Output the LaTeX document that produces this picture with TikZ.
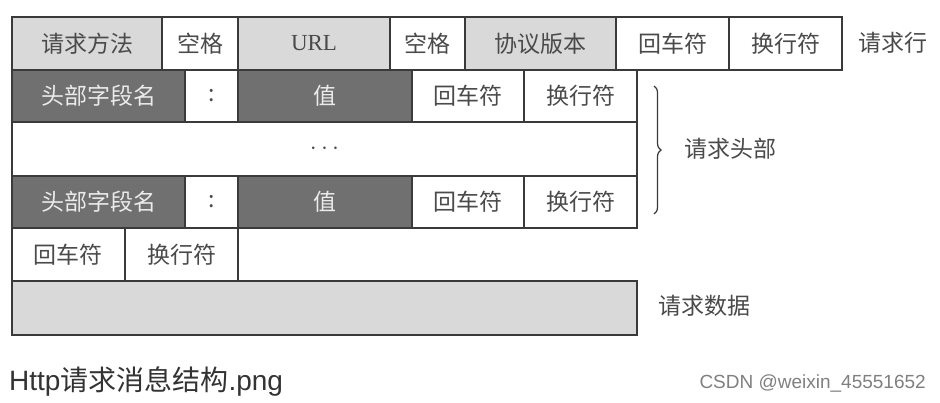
\documentclass[tikz,border=0pt]{standalone}
\usepackage{fontspec}
\newfontfamily\cjk{Noto Sans CJK SC}
\newfontfamily\serifl{Liberation Serif}
\newfontfamily\sansl{Liberation Sans}
\usetikzlibrary{decorations.pathreplacing}
\definecolor{lgray}{HTML}{D9D9D9}
\definecolor{dgray}{HTML}{707070}
\definecolor{edge}{HTML}{3A3A3A}
\definecolor{txt}{HTML}{4A4A4A}
\newcommand\mycell[7]{\node[#6, minimum width={(#4-#2)*1pt}, minimum height={(#5-#3)*1pt}] (#1) at ({(#2+#4)/2},{(#3+#5)/2}) {#7};}
\tikzset{
  base/.style={draw=edge, line width=1.3pt, inner sep=0pt, font=\cjk\fontsize{23}{26}\selectfont},
  wcell/.style={base, fill=white, text=txt},
  lcell/.style={base, fill=lgray, text=txt},
  dcell/.style={base, fill=dgray, text=white!92!black},
  lbl/.style={inner sep=0pt, text=txt, font=\cjk\fontsize{23}{26}\selectfont}
}
\begin{document}
\begin{tikzpicture}[x=1pt,y=-1pt]
\useasboundingbox[fill=white] (0,0) rectangle (940,402);
% row 1
\mycell{m}{12}{17}{162}{70}{lcell}{请求方法}
\mycell{s1}{162}{17}{238}{70}{wcell}{空格}
\mycell{url}{238}{17}{390}{70}{lcell}{\serifl URL}
\mycell{s2}{390}{17}{465}{70}{wcell}{空格}
\mycell{ver}{465}{17}{616}{70}{lcell}{协议版本}
\mycell{cr1}{616}{17}{729}{70}{wcell}{回车符}
\mycell{lf1}{729}{17}{842}{70}{wcell}{换行符}
% row 2
\mycell{h1}{12}{70}{185}{122}{dcell}{头部字段名}
\mycell{c1}{185}{70}{238}{122}{wcell}{:}
\mycell{v1}{238}{70}{412}{122}{dcell}{值}
\mycell{cr2}{412}{70}{524}{122}{wcell}{回车符}
\mycell{lf2}{524}{70}{637}{122}{wcell}{换行符}
% row 3
\mycell{dots}{12}{122}{637}{176}{wcell}{$\cdots$}
% row 4
\mycell{h2}{12}{176}{185}{228}{dcell}{头部字段名}
\mycell{c2}{185}{176}{238}{228}{wcell}{:}
\mycell{v2}{238}{176}{412}{228}{dcell}{值}
\mycell{cr3}{412}{176}{524}{228}{wcell}{回车符}
\mycell{lf3}{524}{176}{637}{228}{wcell}{换行符}
% row 5
\mycell{cr4}{12}{228}{125}{281}{wcell}{回车符}
\mycell{lf4}{125}{228}{238}{281}{wcell}{换行符}
% row 6
\mycell{data}{12}{281}{637}{335}{lcell}{}
% labels
\node[lbl] (lreq) at (893,43) {请求行};
\coordinate (bt) at (654,86);
\coordinate (bb) at (654,214);
\draw[edge, line width=1.2pt, decorate, decoration={brace, amplitude=7pt}] (bt) -- (bb);
\node[lbl] (lhead) at (730,149) {请求头部};
\node[lbl] (ldata) at (704,306) {请求数据};
\node[inner sep=0pt, anchor=west, text=black!80, font=\sansl\fontsize{28}{32}\selectfont] (cap) at (9,381) {Http{\cjk 请求消息结构}.png};
\node[inner sep=0pt, anchor=east, text=black!50, font=\sansl\fontsize{19}{22}\selectfont] (csdn) at (926,383) {CSDN @weixin\_45551652};
\end{tikzpicture}
\end{document}
